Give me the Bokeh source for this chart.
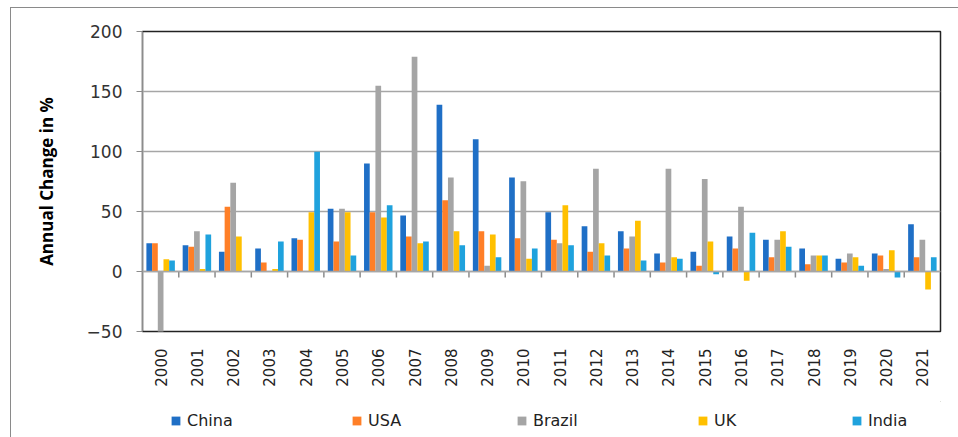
import numpy as np
from bokeh.plotting import figure
from bokeh.layouts import column
from bokeh.models import Range1d, FixedTicker, Span, Legend, ColumnDataSource
from bokeh.transform import dodge
from bokeh.embed import file_html
from bokeh.resources import INLINE

years = list(range(2000, 2022))
china  = [23.6, 21.9, 16.4, 19.2, 27.8, 52.2, 90.0, 46.7, 138.9, 110.3, 78.3, 49.4, 37.8, 33.6, 15.0, 16.4, 29.2, 26.4, 19.2, 10.6, 15.0, 39.4]
usa    = [23.6, 20.6, 53.9, 7.5, 26.4, 25.0, 49.4, 29.2, 59.4, 33.6, 27.8, 26.4, 16.4, 19.2, 7.5, 4.7, 19.2, 11.9, 6.1, 7.5, 13.3, 11.9]
brazil = [-60.0, 33.6, 73.9, 0.0, 0.0, 52.2, 154.7, 179.0, 78.3, 4.7, 75.3, 23.6, 85.6, 29.2, 85.6, 77.0, 53.9, 26.4, 13.3, 15.0, 2.0, 26.4]
uk     = [10.3, 2.0, 29.2, 2.0, 49.4, 49.4, 45.0, 23.6, 33.6, 30.8, 10.6, 55.3, 23.6, 42.2, 11.9, 25.0, -7.8, 33.6, 13.3, 11.9, 17.8, -15.0]
india  = [9.2, 30.8, 0.0, 25.0, 99.7, 13.3, 55.3, 25.0, 21.9, 11.9, 19.2, 21.9, 13.3, 9.2, 10.6, -2.2, 32.2, 20.6, 13.3, 4.7, -5.0, 11.9]
series = ["China", "USA", "Brazil", "UK", "India"]
colors = ["#1F6FC6", "#FF7F27", "#A5A5A5", "#FFC000", "#1FA2DD"]
y_ticks = [-50, 0, 50, 100, 150, 200]
legend_x = [170, 351, 516, 697, 851]  # legend entry positions (px, page)

FRAME_X = 142
LEFT = 131
src = ColumnDataSource(dict(year=years, China=china, USA=usa, Brazil=brazil, UK=uk, India=india))

p = figure(width=948, height=393, output_backend="svg", toolbar_location=None,
           x_range=Range1d(years[0] - 0.5, years[-1] + 0.5), y_range=Range1d(-50, 200),
           min_border_left=LEFT, min_border_top=23, min_border_right=19, min_border_bottom=70)
p.outline_line_color = "#222222"
p.outline_line_width = 1.5

bw = 0.157
offsets = [-2 * bw, -bw, 0, bw, 2 * bw]
for s, c, off in zip(series, colors, offsets):
    p.vbar(x=dodge("year", off, range=p.x_range), top=s, bottom=0, width=bw,
           source=src, fill_color=c, line_color=None)

p.xgrid.visible = False
p.ygrid.grid_line_color = "#A6A6A6"
p.ygrid.grid_line_width = 1.5
p.yaxis.ticker = FixedTicker(ticks=y_ticks)
p.yaxis.axis_line_color = "#8C8C8C"
p.yaxis.major_tick_line_color = "#8C8C8C"
p.yaxis.major_tick_out = 6
p.yaxis.major_tick_in = 0
p.yaxis.minor_tick_line_color = None
p.yaxis.major_label_text_font = "DejaVu Sans"
p.yaxis.major_label_text_font_size = "17px"
p.yaxis.major_label_text_color = "#333333"
p.yaxis.major_label_standoff = 14
p.yaxis.axis_label = "Annual Change in %"
p.yaxis.axis_label_text_font = "Open Sans"
p.yaxis.axis_label_text_font_style = "bold"
p.yaxis.axis_label_text_font_size = "17px"
p.yaxis.axis_label_text_color = "#000000"
p.yaxis.axis_label_standoff = 26

p.xaxis.ticker = FixedTicker(ticks=years)
p.xaxis.major_label_orientation = np.pi / 2
p.xaxis.axis_line_color = None
p.xaxis.major_tick_line_color = None
p.xaxis.minor_tick_line_color = None
p.xaxis.major_label_text_font = "DejaVu Sans"
p.xaxis.major_label_text_font_size = "15px"
p.xaxis.major_label_text_color = "#222222"
p.xaxis.major_label_standoff = 11

# zero line with category-boundary tick marks
p.add_layout(Span(location=0, dimension="width", line_color="#A6A6A6", line_width=1.5))
bounds = [y + 0.5 for y in years[:-1]]
p.segment(x0=bounds, y0=[0] * len(bounds), x1=bounds, y1=[-5] * len(bounds),
          line_color="#8C8C8C", line_width=1.5)

# legend row (its frame is aligned with the main frame by the column layout)
pl = figure(width=948, height=36, output_backend="svg", toolbar_location=None,
            x_range=Range1d(0, 1), y_range=Range1d(0, 1),
            min_border_left=LEFT, min_border_right=19, min_border_top=0, min_border_bottom=0)
pl.axis.visible = False
pl.grid.visible = False
pl.outline_line_color = None
for s, c, lx in zip(series, colors, legend_x):
    r = pl.vbar(x=[5], top=[5], bottom=[4], width=0.1, fill_color=c, line_color=None)
    lg = Legend(items=[(s, [r])], orientation="horizontal",
                location=(lx - FRAME_X, 7), glyph_width=11, glyph_height=11, label_standoff=6,
                padding=0, margin=0, label_text_font="DejaVu Sans",
                label_text_font_size="16px", label_text_color="#222222",
                border_line_color=None, background_fill_alpha=0)
    pl.add_layout(lg, "center")

layout = column(p, pl, spacing=0, margin=(7, 0, 0, 10))
layout.styles = {"border": "1px solid #8a8a8a"}

open("out.html", "w").write(file_html(layout, INLINE))
